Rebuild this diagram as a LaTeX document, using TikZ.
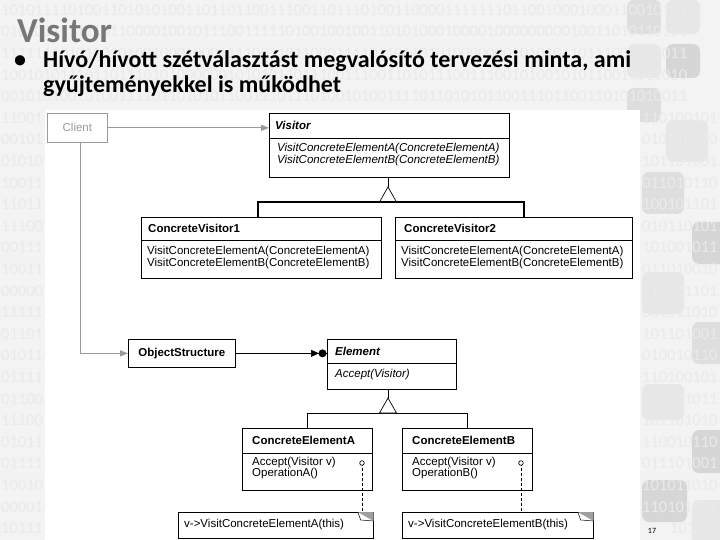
\documentclass[tikz,border=0pt]{standalone}
\usepackage{fontspec}
\setmainfont{Carlito}
\newfontfamily\arialf{Liberation Sans}
\usetikzlibrary{arrows.meta}
\definecolor{bgcol}{HTML}{F3F3F3}
\definecolor{digcol}{HTML}{EAEAEA}
\definecolor{titlecol}{HTML}{777777}
\definecolor{clientcol}{HTML}{9A9A9A}
\definecolor{sqA}{HTML}{DEDEDE}
\definecolor{sqB}{HTML}{E7E7E7}
\definecolor{sqC}{HTML}{D6D6D6}
\begin{document}
\begin{tikzpicture}[x=1pt,y=-1pt,
  umlbox/.style={draw=black,line width=0.7pt,fill=white,inner sep=0pt,anchor=north west},
  hdr/.style={font=\arialf\bfseries\fontsize{11.5}{12}\selectfont,inner sep=0pt,anchor=west},
  mth/.style={font=\arialf\fontsize{11.5}{12}\selectfont,inner sep=0pt,anchor=west},
  conn/.style={draw=black,line width=0.7pt},
  gconn/.style={draw=clientcol,line width=1.3pt},
  digits/.style={font=\fontsize{16.5}{17}\selectfont,text=digcol,inner sep=0pt,anchor=west},
  deco/.style={rounded corners=7pt},
]
\useasboundingbox (0,0) rectangle (720,540);
\fill[bgcol] (0,0) rectangle (720,540);
% decorative squares on the right
\fill[deco,sqA] (627,0) rectangle (661,34);
\fill[deco,sqB] (666,0) rectangle (700,34);
\fill[deco,sqB] (627,44) rectangle (661,78);
\fill[deco,sqC] (666,44) rectangle (700,78);
\fill[deco,sqA] (627,88) rectangle (661,122);
\fill[deco,sqB] (666,120) rectangle (708,162);
\fill[deco,sqA] (642,172) rectangle (684,214);
\fill[deco,sqC] (692,222) rectangle (734,264);
\fill[deco,sqB] (642,272) rectangle (684,314);
\fill[deco,sqA] (692,322) rectangle (734,364);
\fill[deco,sqB] (642,384) rectangle (684,420);
\fill[deco,sqC] (692,430) rectangle (734,473);
\fill[deco,sqC] (642,480) rectangle (687,522);
\fill[deco,sqB] (692,500) rectangle (734,545);
% binary background: full rows above the diagram
\foreach \s [count=\i from 0] in {
1010111101001101010100110110110011100110111010011000011111110110010001000110010101,
0101011111110110000100101110011111010010010011010100010000100000000010011010110101,
1111111010110101001000100011110011011000111101101101010000000101010110111001101011,
1001010111011011101010000001010101101110011100110101110011100101001010110011011010,
0010101001010011110110101011001110111010010100111101101010110011101100110101010011}
  { \node[digits] (drow\i) at (1,{10+21.6*\i}) {\s}; }
% binary background: left strip and right band beside the diagram
\foreach \l/\r [count=\i from 5] in {
11001/110100101,00101/010110100,01010/101101001,10011/011010110,11011/100101101,
11100/010110101,00111/101001011,10011/011010010,00000/110101101,11111/001011010,
01101/101101001,01011/010010110,01111/110100101,01100/001101011,11100/101101010,
01011/110010110,01111/011101001,10010/101011010,00001/110101101}
  { \node[digits] (dl\i) at (1,{10+21.6*\i}) {\l};
    \node[digits] (dr\i) at (642,{10+21.6*\i}) {\r}; }
\node[digits] (dl24) at (1,{10+21.6*24}) {10111};
\node[digits] (dr24) at (670,{10+21.6*24}) {10100};
% title and bullet
\node[anchor=base west,inner sep=0pt,text=titlecol,font=\bfseries\fontsize{35}{38}\selectfont] (title) at (17,43) {Visitor};
\node[anchor=base west,inner sep=0pt,font=\bfseries\fontsize{24}{26}\selectfont] (bul) at (14,68) {•};
\node[anchor=base west,inner sep=0pt,font=\bfseries\fontsize{24}{26}\selectfont] (line1) at (43,68) {Hívó/hívott szétválasztást megvalósító tervezési minta, ami};
\node[anchor=base west,inner sep=0pt,font=\bfseries\fontsize{24}{26}\selectfont] (line2) at (43,93) {gyűjteményekkel is működhet};
% white diagram area
\fill[white] (45,110) rectangle (640,540);
% boxes
\node[umlbox,draw=clientcol,text=clientcol,font=\arialf\fontsize{11.5}{12}\selectfont,minimum width=60pt,minimum height=29pt] (client) at (47,113) {Client};
\node[umlbox,minimum width=240pt,minimum height=64pt] (visitor) at (269,113) {};
\node[umlbox,minimum width=240pt,minimum height=61pt] (cv1) at (141,217) {};
\node[umlbox,minimum width=237pt,minimum height=61pt] (cv2) at (395,217) {};
\node[umlbox,font=\arialf\bfseries\fontsize{11.5}{12}\selectfont,minimum width=107pt,minimum height=28pt] (objs) at (128,339) {ObjectStructure};
\node[umlbox,minimum width=129pt,minimum height=50pt] (element) at (327,339) {};
\node[umlbox,minimum width=130pt,minimum height=62pt] (cea) at (242,428) {};
\node[umlbox,minimum width=130pt,minimum height=62pt] (ceb) at (402,428) {};
\node[umlbox,minimum width=195pt,minimum height=26pt] (notea) at (178,512) {};
\node[umlbox,minimum width=191pt,minimum height=26pt] (noteb) at (402,512) {};
% compartment lines
\draw[conn] (visitor.west |- 0,138) -- (visitor.east |- 0,138);
\draw[conn] (cv1.west |- 0,240) -- (cv1.east |- 0,240);
\draw[conn] (cv2.west |- 0,240) -- (cv2.east |- 0,240);
\draw[conn] (element.west |- 0,363) -- (element.east |- 0,363);
\draw[conn] (cea.west |- 0,453) -- (cea.east |- 0,453);
\draw[conn] (ceb.west |- 0,453) -- (ceb.east |- 0,453);
% texts
\node[hdr,font=\arialf\bfseries\itshape\fontsize{11.5}{12}\selectfont] (vt) at (275,125) {Visitor};
\node[mth,font=\arialf\itshape\fontsize{11.5}{12}\selectfont] (vm1) at (277,149) {VisitConcreteElementA(ConcreteElementA)};
\node[mth,font=\arialf\itshape\fontsize{11.5}{12}\selectfont] (vm2) at (277,161) {VisitConcreteElementB(ConcreteElementB)};
\node[hdr] (c1t) at (148,228) {ConcreteVisitor1};
\node[mth] (c1m1) at (147,252) {VisitConcreteElementA(ConcreteElementA)};
\node[mth] (c1m2) at (147,264) {VisitConcreteElementB(ConcreteElementB)};
\node[hdr] (c2t) at (404,228) {ConcreteVisitor2};
\node[mth] (c2m1) at (401,252) {VisitConcreteElementA(ConcreteElementA)};
\node[mth] (c2m2) at (401,264) {VisitConcreteElementB(ConcreteElementB)};
\node[hdr,font=\arialf\bfseries\itshape\fontsize{11.5}{12}\selectfont] (et) at (335,351) {Element};
\node[mth,font=\arialf\itshape\fontsize{11.5}{12}\selectfont] (em) at (335,375) {Accept(Visitor)};
\node[hdr] (cat) at (252,440) {ConcreteElementA};
\node[mth] (cam1) at (252,463) {Accept(Visitor v)};
\node[mth] (cam2) at (252,474) {OperationA()};
\node[hdr] (cbt) at (412,440) {ConcreteElementB};
\node[mth] (cbm1) at (412,463) {Accept(Visitor v)};
\node[mth] (cbm2) at (412,474) {OperationB()};
\node[mth] (nat) at (184,525) {v->VisitConcreteElementA(this)};
\node[mth] (nbt) at (408,525) {v->VisitConcreteElementB(this)};
% note dog-ears
\fill[gray!75] (notea.north east) -- ++(-16,0) -- ++(16,9) -- cycle;
\draw[conn,line width=0.5pt] (notea.north east) ++(-16,0) -- ++(3,8) -- ++(13,1);
\fill[gray!75] (noteb.north east) -- ++(-16,0) -- ++(16,9) -- cycle;
\draw[conn,line width=0.5pt] (noteb.north east) ++(-16,0) -- ++(3,8) -- ++(13,1);
% connectors: client
\draw[gconn,-{Triangle[length=8pt,width=6pt]}] (client.east) -- (client.east -| visitor.west);
\draw[gconn,-{Triangle[length=8pt,width=6pt]}] ([xshift=3pt]client.south) |- (objs.west);
% aggregation to element
\draw[conn] (objs.east) -- (objs.east -| element.west);
\draw[conn,-{Triangle[length=8pt,width=7pt]}] (objs.east) -- ([xshift=-8pt]objs.east -| element.west);
\fill ([xshift=-4.5pt]objs.east -| element.west) circle (4pt);
% inheritance visitor
\coordinate (vapex) at (388,187);
\draw[conn] (vapex |- visitor.south) -- (vapex);
\draw[conn,fill=white] (vapex) -- ++(-8.5,15) -- ++(17,0) -- cycle;
\coordinate (vb1) at (258,202);
\coordinate (vb2) at (524,202);
\draw[line width=1.6pt] (vb1 |- cv1.north) -- (vb1) -- (vb2) -- (vb2 |- cv2.north);
% inheritance element
\coordinate (eapex) at (388,398);
\draw[conn] (eapex |- element.south) -- (eapex);
\draw[conn] (cea.north) -- (cea.north |- 0,413) -- (ceb.north |- 0,413) -- (ceb.north);
\draw[conn,fill=white] (eapex) -- ++(-8.5,15) -- ++(17,0) -- cycle;
% note links
\coordinate (ca) at (362,463);
\coordinate (cb) at (521,463);
\draw[conn,dash pattern=on 3pt off 2pt] (ca) -- (ca |- notea.north);
\draw[conn,dash pattern=on 3pt off 2pt] (cb) -- (cb |- noteb.north);
\draw[conn,fill=white] (ca) circle (2.3pt);
\draw[conn,fill=white] (cb) circle (2.3pt);
% page number
\node[inner sep=0pt,font=\fontsize{8}{9}\selectfont] (pg) at (652,531) {17};
\end{tikzpicture}
\end{document}
